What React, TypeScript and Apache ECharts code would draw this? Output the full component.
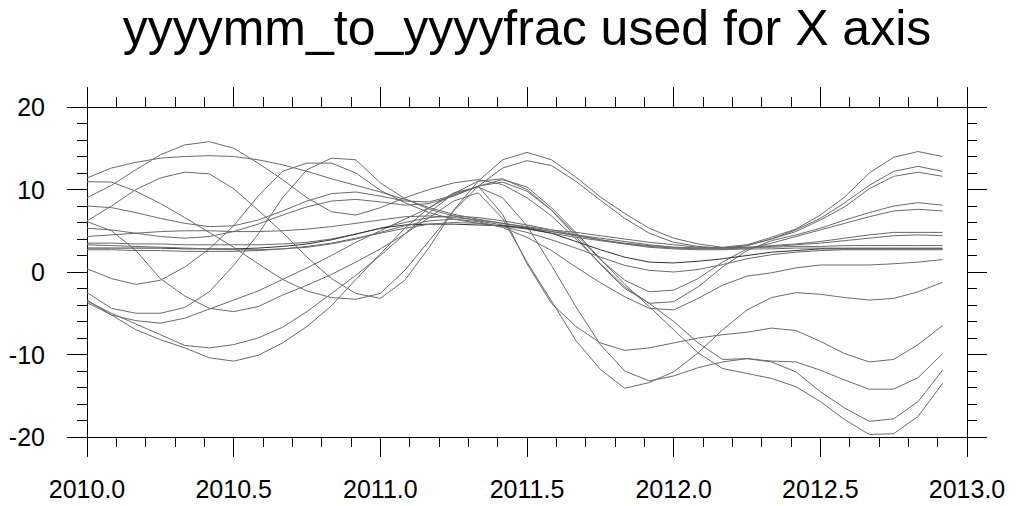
import React, { useEffect, useRef } from "react";
import * as echarts from "echarts";

// monthly time axis: 2010-01 .. 2012-12, converted with yyyymm_to_yyyyfrac
const years = [2010, 2011, 2012];
const monthsOfYear = [1, 2, 3, 4, 5, 6, 7, 8, 9, 10, 11, 12];
const yyyymm: number[] = years.flatMap((y) => monthsOfYear.map((m) => y * 100 + m));
const yyyymmToYyyyfrac = (v: number) => Math.floor(v / 100) + ((v % 100) - 1) / 12;

const xTickLabels = ["2010.0", "2010.5", "2011.0", "2011.5", "2012.0", "2012.5", "2013.0"];
const yTickLabels = ["-20", "-10", "0", "10", "20"];
const titleText = "yyyymm_to_yyyyfrac used for X axis";

// series values (one value per month)
const s01 = [6.2, 8.0, 10.0, 11.4, 12.1, 11.9, 10.1, 7.5, 4.8, 1.8, -0.8, -2.6, -3.2, -1.0, 3.0, 7.5, 11.0, 13.6, 14.5, 13.6, 11.5, 9.1, 7.1, 5.3, 4.1, 3.4, 3.0, 3.3, 4.2, 5.2, 6.9, 9.1, 12.0, 13.9, 14.6, 14.0];
const s02 = [10.95, 10.9, 9.8, 8.3, 6.6, 4.8, 3.0, 1.0, -0.9, -2.3, -3.1, -3.3, -2.6, 0.2, 3.8, 7.4, 10.4, 12.6, 13.5, 12.9, 11.0, 8.7, 6.5, 4.7, 3.6, 3.1, 2.9, 3.2, 4.0, 5.1, 6.5, 8.4, 10.5, 12.2, 12.8, 12.2];
const s03 = [11.4, 12.6, 13.3, 13.8, 14.0, 14.1, 14.0, 13.6, 13.0, 12.2, 11.3, 10.5, 9.7, 8.8, 7.8, 7.0, 6.4, 5.9, 5.5, 5.1, 4.8, 4.4, 4.0, 3.6, 3.3, 3.0, 2.9, 3.0, 3.2, 3.4, 3.7, 4.1, 4.5, 4.8, 4.8, 4.8];
const s04 = [0.4, -0.8, -1.5, -1.0, 0.6, 2.8, 5.6, 9.2, 12.2, 13.2, 13.2, 12.0, 9.9, 8.4, 7.2, 6.4, 5.9, 5.6, 5.2, 4.7, 4.2, 3.8, 3.4, 3.1, 2.9, 2.8, 2.8, 2.9, 3.1, 3.3, 3.5, 3.8, 4.1, 4.4, 4.5, 4.4];
const s05 = [-2.5, -4.4, -5.0, -5.0, -4.3, -2.4, 0.8, 4.6, 9.0, 12.4, 13.8, 13.6, 10.8, 8.9, 7.6, 6.8, 6.2, 5.7, 5.3, 4.9, 4.5, 4.1, 3.7, 3.3, 3.0, 2.9, 2.9, 3.2, 4.0, 4.9, 6.3, 7.9, 10.1, 11.6, 12.1, 11.6];
const s06 = [9.0, 10.5, 12.4, 14.2, 15.4, 15.8, 15.0, 13.2, 11.2, 9.0, 7.3, 6.9, 7.8, 9.0, 10.0, 10.8, 11.2, 10.6, 9.0, 6.8, 4.0, 1.0, -1.8, -3.8, -6.0, -8.6, -10.6, -10.5, -10.8, -10.9, -11.9, -13.1, -14.2, -14.2, -12.8, -9.9];
const s07 = [6.1, 5.0, 2.6, -0.8, -2.9, -4.4, -4.8, -4.2, -2.8, -1.6, -0.3, 1.2, 2.8, 4.6, 6.6, 8.6, 9.6, 6.5, 1.2, -3.5, -8.3, -11.8, -14.1, -13.4, -12.1, -9.8, -7.0, -4.6, -3.1, -2.5, -2.7, -3.1, -3.4, -3.2, -2.4, -1.25];
const s08 = [-3.7, -5.2, -7.0, -8.2, -9.2, -10.4, -10.8, -10.1, -8.6, -6.6, -4.1, -0.9, 2.2, 5.3, 7.8, 9.6, 10.3, 9.0, 5.6, 0.8, -4.2, -8.8, -12.0, -13.2, -12.6, -11.6, -10.9, -10.5, -10.9, -12.1, -14.5, -16.5, -18.1, -17.8, -15.7, -11.9];
const s09 = [-3.5, -5.0, -6.3, -7.6, -8.9, -9.2, -8.8, -8.0, -6.7, -4.8, -2.6, -0.4, 2.0, 4.6, 7.2, 9.5, 11.0, 11.3, 10.0, 7.5, 4.3, 0.9, -2.0, -3.8, -3.6, -1.8, 0.6, 2.6, 3.8, 4.5, 5.3, 6.3, 7.2, 8.0, 8.4, 8.1];
const s10 = [-3.4, -5.2, -5.9, -6.2, -5.6, -4.5, -3.4, -2.3, -0.9, 0.5, 2.0, 3.6, 5.0, 6.4, 7.8, 9.4, 10.4, 7.0, 1.0, -3.8, -6.6, -8.6, -9.5, -9.2, -8.6, -8.0, -7.6, -7.3, -6.8, -7.1, -8.4, -9.9, -10.9, -10.6, -8.8, -6.5];
const s11 = [8.0, 7.8, 7.2, 6.5, 5.9, 5.5, 5.6, 6.3, 7.4, 8.6, 9.5, 9.7, 9.2, 8.6, 8.5, 9.3, 10.4, 10.9, 9.8, 7.5, 4.6, 1.5, -1.0, -2.4, -2.2, -0.8, 1.2, 2.8, 3.5, 4.3, 5.1, 5.9, 6.7, 7.4, 7.6, 7.4];
const s12 = [5.3, 5.1, 4.7, 4.3, 4.1, 4.3, 4.9, 5.8, 6.9, 7.9, 8.6, 8.8, 8.5, 8.1, 8.3, 9.2, 10.4, 11.2, 10.3, 7.8, 4.8, 1.6, -1.5, -4.2, -7.0, -9.8, -11.7, -12.3, -12.9, -13.9, -15.7, -17.9, -19.7, -19.6, -17.5, -13.5];
const s13 = [4.3, 4.5, 4.7, 4.9, 5.0, 5.0, 4.9, 4.9, 5.0, 5.2, 5.5, 5.9, 6.3, 6.7, 6.8, 6.6, 6.3, 5.9, 5.4, 4.9, 4.4, 3.9, 3.5, 3.2, 3.0, 2.9, 2.9, 3.0, 3.0, 3.1, 3.1, 3.2, 3.2, 3.2, 3.2, 3.2];
const s14 = [3.5, 3.5, 3.4, 3.4, 3.3, 3.3, 3.3, 3.3, 3.4, 3.6, 4.0, 4.6, 5.3, 6.0, 6.6, 6.8, 6.6, 6.2, 5.7, 5.1, 4.5, 3.9, 3.4, 3.0, 2.8, 2.7, 2.7, 2.8, 2.8, 2.9, 2.9, 2.9, 2.9, 2.9, 2.9, 2.9];
const s15 = [2.9, 2.9, 2.9, 2.9, 2.8, 2.8, 2.8, 2.9, 3.1, 3.4, 3.9, 4.6, 5.3, 5.7, 5.8, 5.8, 5.7, 5.6, 5.3, 4.7, 3.7, 2.7, 1.8, 1.2, 1.1, 1.3, 1.6, 2.0, 2.4, 2.6, 2.8, 2.8, 2.8, 2.8, 2.8, 2.8];
const s16 = [2.7, 2.7, 2.6, 2.6, 2.5, 2.5, 2.5, 2.6, 2.8, 3.1, 3.5, 4.1, 4.7, 5.3, 5.8, 6.0, 5.9, 5.5, 4.8, 3.9, 2.9, 1.8, 0.8, 0.2, 0.0, 0.3, 0.9, 1.6, 2.1, 2.4, 2.6, 2.7, 2.7, 2.7, 2.7, 2.7];
const s17 = [3.3, 3.2, 3.1, 3.0, 2.9, 2.8, 2.7, 2.7, 2.8, 3.0, 3.4, 4.0, 4.8, 5.6, 6.2, 6.4, 6.1, 5.4, 4.2, 2.6, 0.6, -1.3, -3.0, -4.4, -4.6, -3.2, -1.6, -0.5, -0.1, 0.5, 0.85, 0.85, 0.85, 1.0, 1.2, 1.5];

const allSeries = [s01, s02, s03, s04, s05, s06, s07, s08, s09, s10, s11, s12, s13, s14, s15, s16, s17];
const darkSeriesIndex = 14;

const FONT = "'Liberation Sans', Arial, Helvetica, sans-serif";

export default function App() {
  const ref = useRef<HTMLDivElement>(null);
  useEffect(() => {
    if (!ref.current) return;
    const chart = echarts.init(ref.current, undefined, { renderer: "svg" });
    const xs = yyyymm.map(yyyymmToYyyyfrac);
    const xMin = Number(xTickLabels[0]);
    const xMax = Number(xTickLabels[xTickLabels.length - 1]);
    const yMin = Number(yTickLabels[0]);
    const yMax = Number(yTickLabels[yTickLabels.length - 1]);
    const tickStyle = { color: "#000", width: 1 };
    const baseX = {
      type: "value" as const,
      min: xMin,
      max: xMax,
      interval: 0.5,
      axisLine: { show: true, onZero: false, lineStyle: tickStyle },
      axisTick: { show: true, inside: false, length: 20, lineStyle: tickStyle },
      minorTick: { show: true, splitNumber: 5, length: 10, lineStyle: tickStyle },
      splitLine: { show: false },
      minorSplitLine: { show: false },
    };
    const baseY = {
      type: "value" as const,
      min: yMin,
      max: yMax,
      interval: 10,
      axisLine: { show: true, onZero: false, lineStyle: tickStyle },
      axisTick: { show: true, inside: false, length: 20, lineStyle: tickStyle },
      minorTick: { show: true, splitNumber: 5, length: 10, lineStyle: tickStyle },
      splitLine: { show: false },
      minorSplitLine: { show: false },
    };
    chart.setOption({
      animation: false,
      backgroundColor: "#fff",
      grid: { left: 87, top: 107, width: 880, height: 330, containLabel: false, outerBoundsMode: "none" },
      graphic: [
        {
          type: "text",
          x: 527,
          y: 28,
          style: {
            text: titleText,
            font: `50px ${FONT}`,
            fill: "#000",
            textAlign: "center",
            textVerticalAlign: "middle",
          },
        },
      ],
      xAxis: [
        {
          ...baseX,
          position: "bottom",
          axisLabel: {
            show: true,
            margin: 39,
            fontSize: 25,
            fontFamily: FONT,
            color: "#000",
            formatter: (v: number) => v.toFixed(1),
          },
        },
        { ...baseX, position: "top", axisLabel: { show: false } },
      ],
      yAxis: [
        {
          ...baseY,
          position: "left",
          axisLabel: {
            show: true,
            margin: 42,
            fontSize: 25,
            fontFamily: FONT,
            color: "#000",
            formatter: (v: number) => String(v),
          },
        },
        { ...baseY, position: "right", axisLabel: { show: false } },
      ],
      series: allSeries.map((vals, i) => ({
        type: "line",
        xAxisIndex: 0,
        yAxisIndex: 0,
        data: vals.map((v, k) => [xs[k], v]),
        showSymbol: false,
        symbol: "none",
        silent: true,
        lineStyle: { color: i === darkSeriesIndex ? "#333" : "#6a6a6a", width: 1 },
      })),
    });
    return () => chart.dispose();
  }, []);
  return <div ref={ref} style={{ position: "fixed", left: 0, top: 0, width: 1016, height: 506 }} />;
}
